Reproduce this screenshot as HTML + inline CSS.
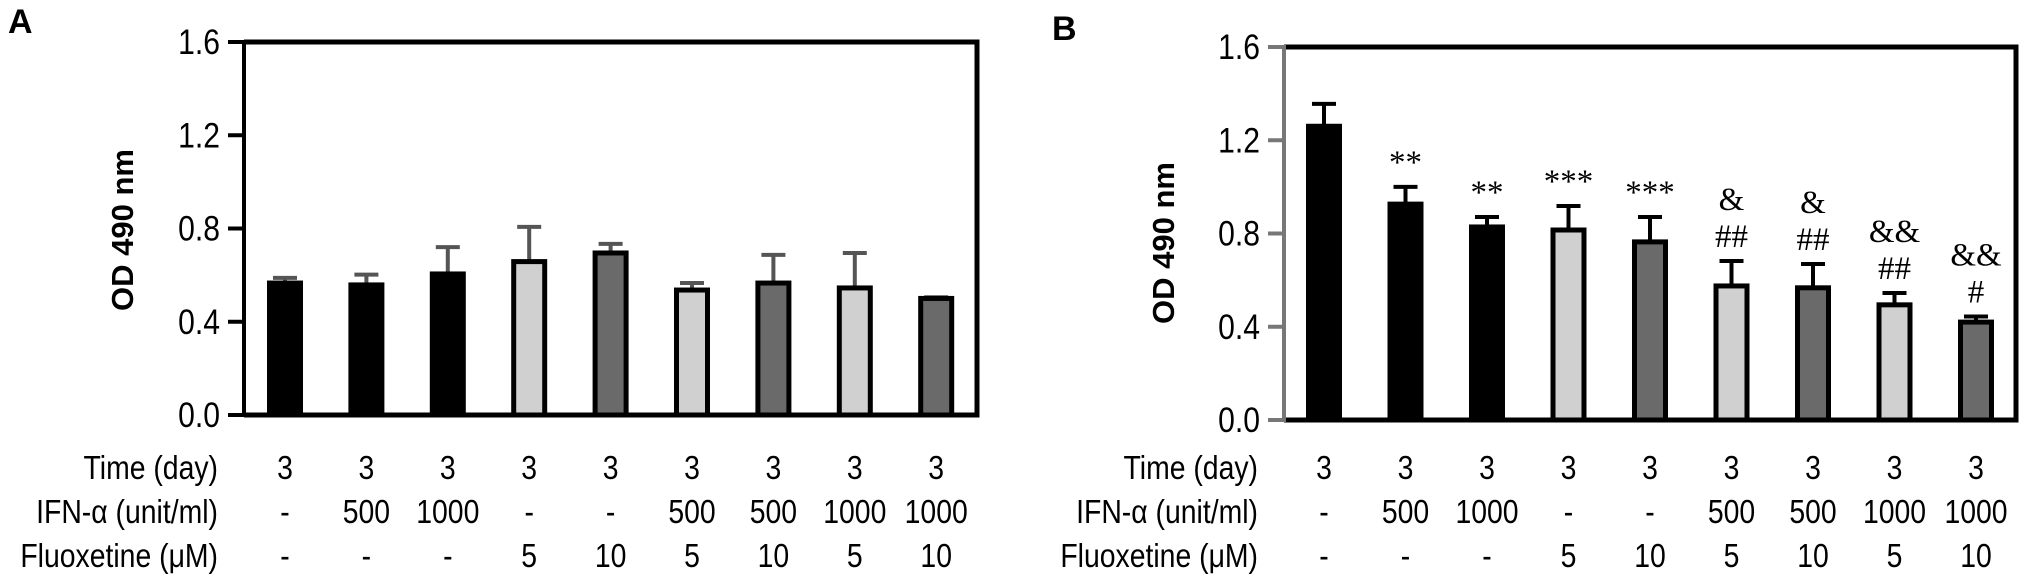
<!DOCTYPE html>
<html><head><meta charset="utf-8"><style>
html,body{margin:0;padding:0;background:#fff;}
svg{display:block;}
</style></head><body>
<svg id="chart" width="2031" height="586" viewBox="0 0 2031 586" xmlns="http://www.w3.org/2000/svg"></svg>
<script>
const conditionsTime = ["3","3","3","3","3","3","3","3","3"];
const conditionsIfn = ["-","500","1000","-","-","500","500","1000","1000"];
const conditionsFlx = ["-","-","-","5","10","5","10","5","10"];
const barFills = ["#000","#000","#000","#d0d0d0","#6a6a6a","#d0d0d0","#6a6a6a","#d0d0d0","#6a6a6a"];
const yTicks = [0.0,0.4,0.8,1.2,1.6];
const yTickLabels = ["0.0","0.4","0.8","1.2","1.6"];
const valuesA = [0.566,0.558,0.605,0.658,0.695,0.536,0.566,0.545,0.50];
const errorsA = [0.588,0.602,0.72,0.807,0.734,0.566,0.687,0.695,0.505];
const valuesB = [1.26,0.926,0.828,0.815,0.764,0.575,0.567,0.494,0.42];
const errorsB = [1.356,1.0,0.871,0.918,0.871,0.682,0.669,0.545,0.444];
const annotB = [[],["**"],["**"],["***"],["***"],["&","##"],["&","##"],["&&","##"],["&&","#"]];

const NS="http://www.w3.org/2000/svg";
const svg=document.getElementById('chart');
function mk(tag,attrs,parent){const e=document.createElementNS(NS,tag);for(const k in attrs)e.setAttribute(k,attrs[k]);(parent||svg).appendChild(e);return e;}
function ntext(x,y,anchor,size,str,parent){
  const t=mk('text',{x:0,y:0,transform:`translate(${x},${y}) scale(0.86,1)`,'text-anchor':anchor,'font-family':'Liberation Sans, sans-serif','font-size':size},parent);
  t.textContent=str;return t;
}

function panel(cfg){
  const g=mk('g',{});
  
  
  const y=v=>cfg.y0-(v/1.6)*(cfg.y0-cfg.y1);
  const x=i=>cfg.x0c+i*cfg.pitch;
  const L=mk('text',{x:cfg.letterX,y:cfg.letterY,'font-family':'Liberation Sans, sans-serif','font-size':34,'font-weight':'bold'},g);
  L.textContent=cfg.letter;
  
  
  const fr=mk('path',{d:`M${cfg.ax},${y(1.6)} H${cfg.right} V${cfg.y0} H${cfg.ax}`,fill:'none',stroke:'#000','stroke-width':5},g);
  
  
  const ya=mk('line',{x1:cfg.ax,x2:cfg.ax,y1:y(1.6)-2,y2:cfg.y0+2,stroke:cfg.axisColor,'stroke-width':4},g);
  
  
  yTicks.forEach((t,i)=>{
    const tk=mk('line',{x1:cfg.ax-16,x2:cfg.ax,y1:y(t),y2:y(t),stroke:cfg.axisColor,'stroke-width':4},g);
    
    
    const tl=ntext(cfg.ax-24,y(t)+12,'end',35,yTickLabels[i],g);
    
    
  });
  const yt=mk('text',{x:0,y:0,transform:`translate(${cfg.ytX},${cfg.ytY}) rotate(-90)`,'text-anchor':'middle','font-family':'Liberation Sans, sans-serif','font-size':31,'font-weight':'bold'},g);
  yt.textContent='OD 490 nm';
  
  
  cfg.values.forEach((v,i)=>{
    const cx=x(i), w=31;
    const eb=mk('path',{d:`M${cx},${y(v)} V${y(cfg.errors[i])} M${cx-12},${y(cfg.errors[i])} H${cx+12}`,stroke:cfg.errColor,'stroke-width':4,fill:'none'},g);
    
    
    const b=mk('rect',{x:cx-w/2,y:y(v),width:w,height:cfg.y0-y(v),fill:barFills[i],stroke:'#000','stroke-width':5},g);
    
    
    if(cfg.annot){
      const lines=cfg.annot[i];
      lines.forEach((s,j)=>{
        const off=(lines.length-1-j)*37;
        const t=mk('text',{x:cx,y:y(cfg.errors[i])-14-off,'text-anchor':'middle','font-family':'Liberation Serif, serif','font-size':33},g);
        t.textContent=s;
        
        
      });
    }
  });
  const rows=[["Time (day)",conditionsTime,479],["IFN-\u03b1 (unit/ml)",conditionsIfn,523],["Fluoxetine (\u03bcM)",conditionsFlx,567]];
  rows.forEach(r=>{
    const h=ntext(cfg.rowLabelX,r[2],'end',33,r[0],g);
    
    
    r[1].forEach((s,i)=>{
      const t=ntext(x(i),r[2],'middle',33,s,g);
      
      
    });
  });
}
panel({name:'panel-a',letter:'A',letterX:8,letterY:33,y0:415,y1:42,ax:244,right:977,x0c:285,pitch:81.4,values:valuesA,errors:errorsA,axisColor:'#000',errColor:'#555',ytX:133,ytY:230,rowLabelX:218});
panel({name:'panel-b',letter:'B',letterX:1052,letterY:40,y0:420,y1:47,ax:1284,right:2016,x0c:1324,pitch:81.5,values:valuesB,errors:errorsB,axisColor:'#777',errColor:'#000',ytX:1174,ytY:243,rowLabelX:1258,annot:annotB});
</script>
</body></html>
